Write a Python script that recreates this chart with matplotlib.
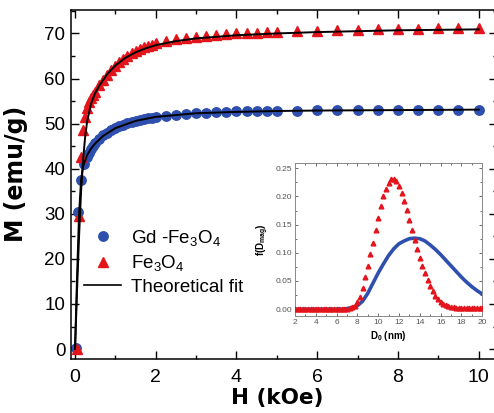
import matplotlib
matplotlib.use("Agg")
import matplotlib.pyplot as plt
from matplotlib.ticker import MultipleLocator

plt.rcParams["font.family"] = ["Liberation Sans", "DejaVu Sans"]
plt.rcParams["mathtext.default"] = "regular"

# --- main panel: magnetization curves ---
h_fe = [0.05, 0.1, 0.15, 0.2, 0.25, 0.3, 0.35, 0.4, 0.45, 0.5, 0.6, 0.7, 0.8, 0.9,
        1.0, 1.1, 1.2, 1.3, 1.4, 1.5, 1.6, 1.7, 1.8, 1.9, 2.0, 2.25, 2.5, 2.75,
        3.0, 3.25, 3.5, 3.75, 4.0, 4.25, 4.5, 4.75, 5.0, 5.5, 6.0, 6.5, 7.0,
        7.5, 8.0, 8.5, 9.0, 9.5, 10.0]
m_fe = [0.0, 29.5, 42.5, 48.5, 51.5, 53.5, 54.8, 55.6, 56.3, 57.0, 58.5, 59.7,
        60.8, 61.9, 62.8, 63.6, 64.4, 65.0, 65.6, 66.1, 66.5, 66.9, 67.2, 67.5,
        67.8, 68.3, 68.7, 69.0, 69.3, 69.5, 69.7, 69.9, 70.0, 70.1, 70.2, 70.3,
        70.4, 70.5, 70.6, 70.7, 70.8, 70.9, 71.0, 71.0, 71.1, 71.1, 71.2]

h_gd = [0.02, 0.08, 0.15, 0.22, 0.3, 0.35, 0.4, 0.45, 0.5, 0.6, 0.7, 0.8, 0.9,
        1.0, 1.1, 1.2, 1.3, 1.4, 1.5, 1.6, 1.7, 1.8, 1.9, 2.0, 2.25, 2.5, 2.75,
        3.0, 3.25, 3.5, 3.75, 4.0, 4.25, 4.5, 4.75, 5.0, 5.5, 6.0, 6.5, 7.0,
        7.5, 8.0, 8.5, 9.0, 9.5, 10.0]
m_gd = [0.3, 30.5, 37.5, 41.0, 42.5, 43.5, 44.3, 45.0, 45.6, 46.6, 47.4, 48.0,
        48.6, 49.0, 49.4, 49.8, 50.1, 50.4, 50.6, 50.8, 51.0, 51.2, 51.3, 51.5,
        51.8, 52.0, 52.2, 52.3, 52.4, 52.5, 52.6, 52.7, 52.7, 52.8, 52.8, 52.9,
        52.9, 53.0, 53.0, 53.0, 53.0, 53.1, 53.1, 53.1, 53.1, 53.1]

h_fit_fe = [0, 0.05, 0.1, 0.15, 0.2, 0.25, 0.3, 0.4, 0.5, 0.6, 0.8, 1.0, 1.25,
            1.5, 1.75, 2.0, 2.5, 3, 4, 5, 6, 7, 8, 9, 10]
m_fit_fe = [0, 13, 25, 35, 42, 47, 50.5, 54.5, 56.8, 58.4, 61.0, 62.9, 64.6,
            65.8, 66.7, 67.4, 68.3, 68.9, 69.6, 70.0, 70.3, 70.5, 70.7, 70.8, 70.9]

h_fit_gd = [0, 0.05, 0.1, 0.15, 0.2, 0.3, 0.4, 0.5, 0.7, 1.0, 1.5, 2, 3, 4, 5,
            6, 8, 10]
m_fit_gd = [0, 16, 30, 37.5, 40.5, 43, 44.5, 45.6, 47.3, 49.0, 50.6, 51.5,
            52.3, 52.6, 52.8, 52.9, 53.0, 53.1]

# --- inset: size distributions ---
d_fe = [2.0, 2.25, 2.5, 2.75, 3.0, 3.25, 3.5, 3.75, 4.0, 4.25, 4.5, 4.75, 5.0,
        5.25, 5.5, 5.75, 6.0, 6.25, 6.5, 6.75, 7.0, 7.25, 7.5, 7.75, 8.0, 8.25,
        8.5, 8.75, 9.0, 9.25, 9.5, 9.75, 10.0, 10.25, 10.5, 10.75, 11.0, 11.25,
        11.5, 11.75, 12.0, 12.25, 12.5, 12.75, 13.0, 13.25, 13.5, 13.75, 14.0,
        14.25, 14.5, 14.75, 15.0, 15.25, 15.5, 15.75, 16.0, 16.25, 16.5, 16.75,
        17.0, 17.25, 17.5, 17.75, 18.0, 18.25, 18.5, 18.75, 19.0, 19.25, 19.5,
        19.75, 20.0]
f_fe = [0.001, 0.001, 0.001, 0.001, 0.001, 0.001, 0.001, 0.001, 0.001, 0.001,
        0.001, 0.001, 0.001, 0.001, 0.001, 0.001, 0.001, 0.001, 0.001, 0.001,
        0.001, 0.002, 0.003, 0.006, 0.012, 0.022, 0.038, 0.057, 0.077, 0.097,
        0.118, 0.140, 0.162, 0.183, 0.200, 0.214, 0.224, 0.230, 0.231, 0.227,
        0.218, 0.206, 0.192, 0.176, 0.158, 0.140, 0.122, 0.106, 0.091, 0.077,
        0.064, 0.052, 0.041, 0.032, 0.024, 0.018, 0.013, 0.009, 0.007, 0.005,
        0.004, 0.003, 0.002, 0.002, 0.002, 0.002, 0.002, 0.002, 0.002, 0.002,
        0.002, 0.002, 0.002]

d_gd = [2.0, 3.0, 4.0, 5.0, 6.0, 6.5, 7.0, 7.5, 8.0, 8.5, 9.0, 9.5, 10.0, 10.5,
        11.0, 11.5, 12.0, 12.5, 13.0, 13.5, 14.0, 14.5, 15.0, 15.5, 16.0, 16.5,
        17.0, 17.5, 18.0, 18.5, 19.0, 19.5, 20.0]
f_gd = [0.0, 0.0, 0.0, 0.0, 0.0, 0.0, 0.001, 0.003, 0.006, 0.014, 0.028, 0.046,
        0.064, 0.080, 0.095, 0.107, 0.116, 0.121, 0.125, 0.126, 0.125, 0.121,
        0.114, 0.106, 0.097, 0.087, 0.077, 0.067, 0.057, 0.048, 0.040, 0.033,
        0.027]

RED = "#e3141b"
BLUE = "#2f4fae"

fig = plt.figure(figsize=(4.94, 4.13), dpi=100)
ax = fig.add_axes([0.1437, 0.1308, 0.862, 0.845])

ax.plot(h_fit_fe, m_fit_fe, color="black", lw=1.4, zorder=3)
ax.plot(h_fit_gd, m_fit_gd, color="black", lw=1.4, zorder=3)
ax.plot(h_gd, m_gd, "o", color=BLUE, ms=6.8, zorder=2, label="Gd -Fe$_3$O$_4$")
ax.plot(h_fe, m_fe, "^", color=RED, ms=7.5, zorder=2, label="Fe$_3$O$_4$")
ax.plot([], [], color="black", lw=1.2, label="Theoretical fit")

ax.set_xlim(-0.1, 10.45)
ax.set_ylim(-2.2, 75.2)
ax.xaxis.set_major_locator(MultipleLocator(2))
ax.xaxis.set_minor_locator(MultipleLocator(1))
ax.yaxis.set_major_locator(MultipleLocator(10))
ax.yaxis.set_minor_locator(MultipleLocator(5))
ax.tick_params(which="both", direction="in", top=True, right=True, width=1)
ax.tick_params(which="major", length=6)
ax.tick_params(which="minor", length=3)
ax.tick_params(axis="x", labelsize=14, pad=7)
ax.tick_params(axis="y", labelsize=13.5, pad=4)
for s in ax.spines.values():
    s.set_linewidth(1.1)
ax.set_xlabel("H (kOe)", fontsize=15.5, fontweight="bold",
              family=["DejaVu Sans"])
ax.set_ylabel("M (emu/g)", fontsize=17, fontweight="bold",
              family=["DejaVu Sans"])
ax.xaxis.set_label_coords(0.485, -0.083)
ax.yaxis.set_label_coords(-0.100, 0.53)

ax.legend(loc="center left", bbox_to_anchor=(0.170, 0.366),
          bbox_transform=fig.transFigure, frameon=False, fontsize=13.5,
          handlelength=2.0, handletextpad=0.5, labelspacing=0.3,
          borderpad=0, borderaxespad=0)

# inset
ins = fig.add_axes([0.597, 0.235, 0.379, 0.370])
ins.plot(d_gd, f_gd, color=BLUE, lw=2.6, zorder=2)
ins.plot(d_fe, f_fe, "^", color=RED, ms=3.4, zorder=3)
ins.set_xlim(2, 20)
ins.set_ylim(-0.012, 0.259)
ins.xaxis.set_major_locator(MultipleLocator(2))
ins.xaxis.set_minor_locator(MultipleLocator(1))
ins.yaxis.set_major_locator(MultipleLocator(0.05))
ins.yaxis.set_minor_locator(MultipleLocator(0.025))
ins.tick_params(which="both", direction="in", top=True, right=True,
                labelsize=6, colors="#555555", length=2.5, width=0.6, pad=2)
ins.tick_params(which="minor", length=1.5)
ins.yaxis.set_major_formatter(plt.FormatStrFormatter("%.2f"))
for s in ins.spines.values():
    s.set_color("#888888")
    s.set_linewidth(0.7)
ins.set_xlabel("D$_0$ (nm)", fontsize=7, fontweight="bold", labelpad=2)
ins.set_ylabel("f(D$_{mag}$)", fontsize=7, fontweight="bold", labelpad=3)

fig.savefig("out.png", dpi=100)
